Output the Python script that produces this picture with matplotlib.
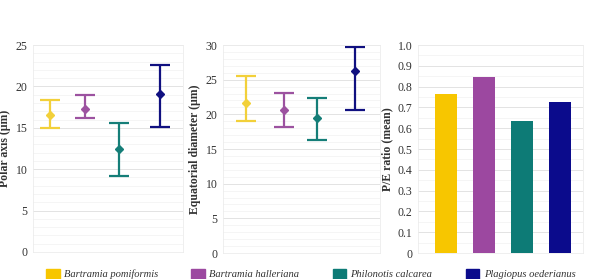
import numpy as np
import matplotlib.pyplot as plt
from matplotlib.patches import Patch
from matplotlib.ticker import MultipleLocator

plt.rcParams['font.family'] = ['Liberation Serif', 'DejaVu Serif']

species = ['Bartramia pomiformis', 'Bartramia halleriana',
           'Philonotis calcarea', 'Plagiopus oederianus']
colors = ['#F7C600', '#9C48A0', '#0D7B76', '#0B0B8C']
err_colors = ['#F2D03A', '#9C52A0', '#157E78', '#101080']

# polar axis (um): mean, min, max
polar_mean = [16.6, 17.3, 12.4, 19.1]
polar_low = [15.0, 16.2, 9.2, 15.1]
polar_high = [18.3, 19.0, 15.6, 22.6]

# equatorial diameter (um)
equat_mean = [21.7, 20.6, 19.5, 26.3]
equat_low = [19.1, 18.2, 16.3, 20.6]
equat_high = [25.6, 23.1, 22.3, 29.7]

# P/E ratio (mean)
pe_ratio = [0.765, 0.845, 0.635, 0.725]

fig = plt.figure(figsize=(5.94, 2.79), dpi=100)
ax1 = fig.add_axes([33/594, 1-252/279, 150/594, 207/279])
ax2 = fig.add_axes([223/594, 1-253/279, 157/594, 208/279])
ax3 = fig.add_axes([418/594, 1-253/279, 165/594, 208/279])

x = np.arange(4)

def style(ax, ymax, major, minor):
    ax.set_ylim(0, ymax)
    ax.yaxis.set_major_locator(MultipleLocator(major))
    ax.yaxis.set_minor_locator(MultipleLocator(minor))
    ax.grid(True, which='major', axis='y', color='#e3e3e3', lw=0.7)
    ax.grid(True, which='minor', axis='y', color='#f2f2f2', lw=0.5)
    ax.set_axisbelow(True)
    for s in ax.spines.values():
        s.set_color('#ececec')
        s.set_linewidth(0.6)
    ax.set_xticks([])
    ax.tick_params(axis='y', which='both', length=0, labelsize=8.5, pad=4,
                   colors='#333333')

def errplot(ax, mean, low, high, pos):
    for i in range(4):
        yerr = [[mean[i] - low[i]], [high[i] - mean[i]]]
        ax.errorbar(pos[i], mean[i], yerr=yerr, fmt='D', color=err_colors[i],
                    ms=4.5, elinewidth=1.6, capsize=7, capthick=1.6)

errplot(ax1, polar_mean, polar_low, polar_high, [0, 1.0, 1.97, 3.15])
ax1.set_xlim(-0.49, 3.81)
style(ax1, 25, 5, 1)
ax1.set_ylabel('Polar axis (μm)', fontsize=8.5, fontweight='bold',
               color='#333333', labelpad=3)

errplot(ax2, equat_mean, equat_low, equat_high, [0, 1.05, 1.95, 3.0])
ax2.set_xlim(-0.65, 3.7)
style(ax2, 30, 5, 1)
ax2.set_ylabel('Equatorial diameter (μm)', fontsize=8.5, fontweight='bold',
               color='#333333', labelpad=3)

ax3.bar(x, pe_ratio, width=0.58, color=colors)
ax3.set_xlim(-0.75, 3.62)
style(ax3, 1.0, 0.1, 0.05)
ax3.set_yticks(np.arange(0, 1.01, 0.1))
ax3.set_yticklabels(['0'] + ['%.1f' % v for v in np.arange(0.1, 1.01, 0.1)])
ax3.set_ylabel('P/E ratio (mean)', fontsize=8.5, fontweight='bold',
               color='#333333', labelpad=3)

handles = [Patch(color=c, label=s) for c, s in zip(colors, species)]
leg = fig.legend(handles=handles, loc='lower center', bbox_to_anchor=(0.523, -0.035),
                 ncol=4, frameon=False, handlelength=1.3, handleheight=1.1,
                 columnspacing=3.15, handletextpad=0.4,
                 prop={'style': 'italic', 'size': 7.6})
for t in leg.get_texts():
    t.set_color('#333333')

fig.savefig('out.png', dpi=100)
